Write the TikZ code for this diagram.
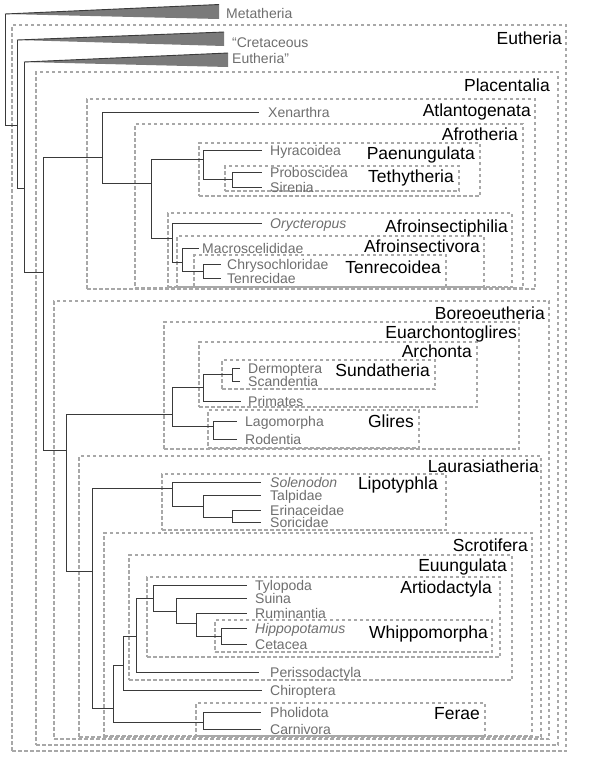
\documentclass[tikz,border=0pt]{standalone}
\usepackage{fontspec}
\setmainfont{Liberation Sans}
\usepackage{xcolor}
\usepackage{tikz}
\usetikzlibrary{fit}

\definecolor{branchcol}{HTML}{3A3A3A}
\definecolor{leafcol}{HTML}{6E6E6E}
\definecolor{boxcol}{HTML}{A8A8A8}
\definecolor{wedgecol}{HTML}{7A7A7A}

\begin{document}
\begin{tikzpicture}[
    x=1pt, y=-1pt,
    branch/.style={draw=branchcol, line width=0.9pt},
    leaf/.style={anchor=west, inner ysep=0pt, inner xsep=8pt, text height=10pt, text depth=0pt,
        text=leafcol, font=\fontsize{14}{16}\selectfont},
    clade/.style={draw=boxcol, dash pattern=on 3.5pt off 2.5pt, line width=1.1pt, inner sep=0pt},
    cladelab/.style={anchor=east, inner sep=0pt, text height=12.5pt, text depth=0pt,
        font=\fontsize{17.5}{20}\selectfont},
    wedge/.style={fill=wedgecol},
]
\useasboundingbox (0,0) rectangle (600,761);

% clade boxes
\node[clade, fit={(12,25) (566,751)}] (b-eutheria) {};
\node[clade, fit={(36,72) (558,745)}] (b-placentalia) {};
\node[clade, fit={(87,99) (535,289)}] (b-atlantogenata) {};
\node[clade, fit={(135,124) (523,288)}] (b-afrotheria) {};
\node[clade, fit={(199,143) (480,196)}] (b-paenungulata) {};
\node[clade, fit={(225,166) (459,191)}] (b-tethytheria) {};
\node[clade, fit={(168,213) (512,287)}] (b-afroinsectiphilia) {};
\node[clade, fit={(177,236) (484,287)}] (b-afroinsectivora) {};
\node[clade, fit={(194,255) (446,287)}] (b-tenrecoidea) {};
\node[clade, fit={(54,301) (549,739)}] (b-boreoeutheria) {};
\node[clade, fit={(164,322) (519,449)}] (b-euarchontoglires) {};
\node[clade, fit={(199,342) (477,407)}] (b-archonta) {};
\node[clade, fit={(222,360) (435,389)}] (b-sundatheria) {};
\node[clade, fit={(208,410) (419,448)}] (b-glires) {};
\node[clade, fit={(79,456) (541,737)}] (b-laurasiatheria) {};
\node[clade, fit={(162,474) (446,530)}] (b-lipotyphla) {};
\node[clade, fit={(104,533) (532,736)}] (b-scrotifera) {};
\node[clade, fit={(129,555) (512,680)}] (b-euungulata) {};
\node[clade, fit={(147,577) (500,657)}] (b-artiodactyla) {};
\node[clade, fit={(215,620) (492,652)}] (b-whippomorpha) {};
\node[clade, fit={(196,703) (485,736)}] (b-ferae) {};

\node[cladelab] (l-eutheria) at (562,38) {Eutheria};
\node[cladelab] (l-placentalia) at (550,85) {Placentalia};
\node[cladelab] (l-atlantogenata) at (531,110) {Atlantogenata};
\node[cladelab] (l-afrotheria) at (518,134) {Afrotheria};
\node[cladelab] (l-paenungulata) at (475,153) {Paenungulata};
\node[cladelab] (l-tethytheria) at (454,176) {Tethytheria};
\node[cladelab] (l-afroinsectiphilia) at (508,226) {Afroinsectiphilia};
\node[cladelab] (l-afroinsectivora) at (480,246) {Afroinsectivora};
\node[cladelab] (l-tenrecoidea) at (441,267) {Tenrecoidea};
\node[cladelab] (l-boreoeutheria) at (545,313) {Boreoeutheria};
\node[cladelab] (l-euarchontoglires) at (517,332) {Euarchontoglires};
\node[cladelab] (l-archonta) at (472,351) {Archonta};
\node[cladelab] (l-sundatheria) at (430,370) {Sundatheria};
\node[cladelab] (l-glires) at (414,421) {Glires};
\node[cladelab] (l-laurasiatheria) at (539,466) {Laurasiatheria};
\node[cladelab] (l-lipotyphla) at (438,483) {Lipotyphla};
\node[cladelab] (l-scrotifera) at (528,545) {Scrotifera};
\node[cladelab] (l-euungulata) at (507,565) {Euungulata};
\node[cladelab] (l-artiodactyla) at (492,587) {Artiodactyla};
\node[cladelab] (l-whippomorpha) at (488,632) {Whippomorpha};
\node[cladelab] (l-ferae) at (480,713) {Ferae};

% collapsed outgroups
\coordinate (metatip) at (5,14);
\coordinate (crettip) at (17,40);
\coordinate (eutip) at (24,62);
\fill[wedge] (metatip) -- (219,4.5) -- (219,19) -- cycle;
\fill[wedge] (crettip) -- (224,32) -- (224,46) -- cycle;
\fill[wedge] (eutip) -- (228,53) -- (228,67) -- cycle;
\draw[branch] (metatip) -- (219,4.5);
\draw[branch] (crettip) -- (224,32);
\draw[branch] (eutip) -- (228,53);
\node[leaf, inner xsep=7pt] (metatheria) at (219,13) {Metatheria};
\node[leaf] (cretaceous) at (224,42) {“Cretaceous};
\node[leaf, inner xsep=4pt] (eutheria2) at (228,58) {Eutheria”};

% internal nodes
\coordinate (root) at (5,125);
\coordinate (n-cret) at (17,125);
\coordinate (n-eu) at (24,188);
\coordinate (n-plac) at (43,272);
\coordinate (n-atl) at (102,157);
\coordinate (n-afro) at (151,183);
\coordinate (n-paen) at (203,159);
\coordinate (n-teth) at (232,179);
\coordinate (n-ains) at (172,238);
\coordinate (n-aivo) at (182,262);
\coordinate (n-tenr) at (203,271);
\coordinate (n-boreo) at (66,450);
\coordinate (n-euarch) at (172,414);
\coordinate (n-archo) at (203,387);
\coordinate (n-sunda) at (232,374);
\coordinate (n-glires) at (213,426);
\coordinate (n-laura) at (92,571);
\coordinate (n-lipo) at (172,488);
\coordinate (n-lipo2) at (203,506);
\coordinate (n-lipo3) at (232,517);
\coordinate (n-scro) at (113,708);
\coordinate (n-scro2) at (123,665);
\coordinate (n-euung) at (136,636);
\coordinate (n-artio) at (153,598);
\coordinate (n-artio2) at (176,611);
\coordinate (n-artio3) at (196,623);
\coordinate (n-whip) at (221,636);
\coordinate (n-ferae) at (203,722);

% leaves
\node[leaf, inner xsep=9pt] (xenarthra) at (259,112) {Xenarthra};
\node[leaf] (hyracoidea) at (262,150) {Hyracoidea};
\node[leaf] (proboscidea) at (262,172) {Proboscidea};
\node[leaf] (sirenia) at (262,187) {Sirenia};
\node[leaf] (orycteropus) at (262,223) {\textit{Orycteropus}};
\node[leaf, inner xsep=3pt] (macroscelididae) at (199,248) {Macroscelididae};
\node[leaf, inner xsep=6pt] (chrysochloridae) at (221,264) {Chrysochloridae};
\node[leaf, inner xsep=6pt] (tenrecidae) at (221,278) {Tenrecidae};
\node[leaf] (dermoptera) at (240,368) {Dermoptera};
\node[leaf] (scandentia) at (240,381) {Scandentia};
\node[leaf, inner xsep=7pt] (primates) at (241,401) {Primates};
\node[leaf] (lagomorpha) at (237,421) {Lagomorpha};
\node[leaf] (rodentia) at (237,439) {Rodentia};
\node[leaf, inner xsep=9pt] (solenodon) at (261,482) {\textit{Solenodon}};
\node[leaf, inner xsep=9pt] (talpidae) at (261,495) {Talpidae};
\node[leaf, inner xsep=9pt] (erinaceidae) at (261,510) {Erinaceidae};
\node[leaf, inner xsep=9pt] (soricidae) at (261,522) {Soricidae};
\node[leaf] (tylopoda) at (247,585) {Tylopoda};
\node[leaf] (suina) at (247,598) {Suina};
\node[leaf] (ruminantia) at (247,613) {Ruminantia};
\node[leaf] (hippopotamus) at (247,628) {\textit{Hippopotamus}};
\node[leaf] (cetacea) at (247,644) {Cetacea};
\node[leaf, inner xsep=11pt] (perissodactyla) at (259,672) {Perissodactyla};
\node[leaf] (chiroptera) at (262,690) {Chiroptera};
\node[leaf, inner xsep=9pt] (pholidota) at (261,712) {Pholidota};
\node[leaf, inner xsep=9pt] (carnivora) at (261,729) {Carnivora};

% branches
\draw[branch] (root) |- (metatip);
\draw[branch] (root) |- (n-cret);
\draw[branch] (n-cret) |- (crettip);
\draw[branch] (n-cret) |- (n-eu);
\draw[branch] (n-eu) |- (eutip);
\draw[branch] (n-eu) |- (n-plac);
\draw[branch] (n-plac) |- (n-atl);
\draw[branch] (n-plac) |- (n-boreo);
\draw[branch] (n-atl) |- (xenarthra.west);
\draw[branch] (n-atl) |- (n-afro);
\draw[branch] (n-afro) |- (n-paen);
\draw[branch] (n-afro) |- (n-ains);
\draw[branch] (n-paen) |- (hyracoidea.west);
\draw[branch] (n-paen) |- (n-teth);
\draw[branch] (n-teth) |- (proboscidea.west);
\draw[branch] (n-teth) |- (sirenia.west);
\draw[branch] (n-ains) |- (orycteropus.west);
\draw[branch] (n-ains) |- (n-aivo);
\draw[branch] (n-aivo) |- (macroscelididae.west);
\draw[branch] (n-aivo) |- (n-tenr);
\draw[branch] (n-tenr) |- (chrysochloridae.west);
\draw[branch] (n-tenr) |- (tenrecidae.west);
\draw[branch] (n-boreo) |- (n-euarch);
\draw[branch] (n-boreo) |- (n-laura);
\draw[branch] (n-euarch) |- (n-archo);
\draw[branch] (n-euarch) |- (n-glires);
\draw[branch] (n-archo) |- (n-sunda);
\draw[branch] (n-archo) |- (primates.west);
\draw[branch] (n-sunda) |- (dermoptera.west);
\draw[branch] (n-sunda) |- (scandentia.west);
\draw[branch] (n-glires) |- (lagomorpha.west);
\draw[branch] (n-glires) |- (rodentia.west);
\draw[branch] (n-laura) |- (n-lipo);
\draw[branch] (n-laura) |- (n-scro);
\draw[branch] (n-lipo) |- (solenodon.west);
\draw[branch] (n-lipo) |- (n-lipo2);
\draw[branch] (n-lipo2) |- (talpidae.west);
\draw[branch] (n-lipo2) |- (n-lipo3);
\draw[branch] (n-lipo3) |- (erinaceidae.west);
\draw[branch] (n-lipo3) |- (soricidae.west);
\draw[branch] (n-scro) |- (n-scro2);
\draw[branch] (n-scro) |- (n-ferae);
\draw[branch] (n-scro2) |- (n-euung);
\draw[branch] (n-scro2) |- (chiroptera.west);
\draw[branch] (n-euung) |- (n-artio);
\draw[branch] (n-euung) |- (perissodactyla.west);
\draw[branch] (n-artio) |- (tylopoda.west);
\draw[branch] (n-artio) |- (n-artio2);
\draw[branch] (n-artio2) |- (suina.west);
\draw[branch] (n-artio2) |- (n-artio3);
\draw[branch] (n-artio3) |- (ruminantia.west);
\draw[branch] (n-artio3) |- (n-whip);
\draw[branch] (n-whip) |- (hippopotamus.west);
\draw[branch] (n-whip) |- (cetacea.west);
\draw[branch] (n-ferae) |- (pholidota.west);
\draw[branch] (n-ferae) |- (carnivora.west);

\end{tikzpicture}
\end{document}
